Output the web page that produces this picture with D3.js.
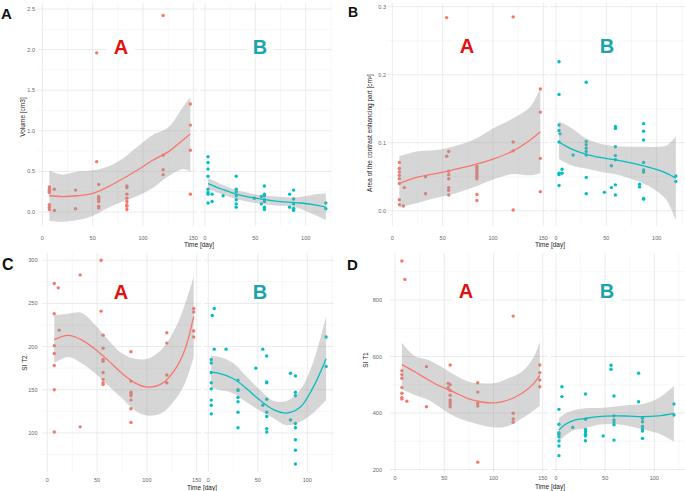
<!DOCTYPE html>
<html>
<head>
<meta charset="utf-8">
<script src="https://d3js.org/d3.v7.min.js"></script>
<style>
body { margin: 0; background: #fff; }
svg text { font-family: "Liberation Sans", Arial, sans-serif; }
</style>
</head>
<body>
<div id="chart-area"></div>
<script>

// ---- values ----
// points are grouped as [day, [values...]]
// smooth curves are [day, fit, lower, upper]

var dayTicks = [0, 50, 100, 150];

// A: volume [cm3]
var volumeTicks = [0, 0.5, 1, 1.5, 2, 2.5];
var volumeA = [
    [7, [0.31, 0.28, 0.26, 0.24, 0.09, 0.06, 0.03]],
    [12, [0.28, 0.02]],
    [33, [0.27, 0.04]],
    [54, [1.96, 0.62]],
    [56, [0.34, 0.19, 0.17, 0.15, 0.13, 0.07, 0.05]],
    [84, [0.32, 0.30, 0.22, 0.17, 0.13, 0.09, 0.07, 0.03]],
    [120, [2.42, 0.70, 0.52, 0.46]],
    [147, [1.33, 1.07, 0.76, 0.22]]
];
var volumeB = [
    [3, [0.68, 0.61, 0.53, 0.44, 0.28, 0.24, 0.22, 0.11]],
    [7, [0.22, 0.13]],
    [18, [0.20]],
    [31, [0.44, 0.28, 0.25, 0.20, 0.15, 0.10, 0.06]],
    [49, [0.17]],
    [56, [0.19, 0.10]],
    [59, [0.32, 0.22, 0.20, 0.15, 0.13, 0.06, 0.03]],
    [84, [0.22, 0.06]],
    [88, [0.27, 0.16, 0.10, 0.045, 0.02]],
    [120, [0.11, 0.04]]
];
var volumeFitA = [
    [7, 0.20, -0.11, 0.51], [20, 0.19, -0.12, 0.46], [35, 0.20, -0.10, 0.50],
    [50, 0.23, -0.05, 0.51], [65, 0.31, 0.05, 0.56], [80, 0.41, 0.13, 0.66],
    [95, 0.52, 0.20, 0.81], [110, 0.64, 0.30, 0.95], [125, 0.74, 0.44, 1.04],
    [140, 0.89, 0.53, 1.30], [147, 0.96, 0.50, 1.41]
];
var volumeFitB = [
    [3, 0.35, 0.28, 0.42], [17, 0.28, 0.22, 0.34], [31, 0.22, 0.16, 0.27],
    [50, 0.17, 0.11, 0.22], [70, 0.135, 0.08, 0.19], [90, 0.115, 0.06, 0.18],
    [106, 0.095, -0.02, 0.21], [120, 0.06, -0.10, 0.23]
];

// B: area of the contrast enhancing part
var areaTicks = [0, 0.1, 0.2, 0.3];
var areaA = [
    [7, [0.071, 0.062, 0.057, 0.052, 0.047, 0.040, 0.016, 0.009]],
    [11, [0.007]],
    [12, [0.034]],
    [33, [0.050, 0.025]],
    [54, [0.284, 0.080]],
    [56, [0.087, 0.058, 0.053, 0.047, 0.034, 0.030, 0.023]],
    [84, [0.065, 0.062, 0.059, 0.056, 0.053, 0.050, 0.047, 0.024, 0.015]],
    [120, [0.285, 0.101, 0.088, 0.001]],
    [147, [0.179, 0.145, 0.077, 0.028]]
];
var areaB = [
    [3, [0.219, 0.171, 0.126, 0.118, 0.101, 0.055, 0.053, 0.037]],
    [4, [0.113]],
    [6, [0.061, 0.055]],
    [17, [0.082]],
    [30, [0.189, 0.102, 0.097, 0.092, 0.087, 0.082, 0.049, 0.025]],
    [48, [0.027]],
    [55, [0.066, 0.034]],
    [59, [0.124, 0.121, 0.094, 0.081, 0.075, 0.038, 0.023]],
    [83, [0.039, 0.035]],
    [87, [0.128, 0.117, 0.104, 0.071, 0.060, 0.057, 0.018, 0.017]],
    [119, [0.051, 0.043]]
];
var areaFitA = [
    [7, 0.040, 0.005, 0.080], [24, 0.049, 0.011, 0.087], [41, 0.054, 0.018, 0.089],
    [57, 0.059, 0.023, 0.093], [80, 0.067, 0.034, 0.104], [100, 0.076, 0.046, 0.121],
    [120, 0.088, 0.054, 0.136], [137, 0.104, 0.052, 0.153], [147, 0.116, 0.055, 0.180]
];
var areaFitB = [
    [3, 0.101, 0.076, 0.131], [15, 0.091, 0.067, 0.122], [30, 0.083, 0.062, 0.106],
    [45, 0.078, 0.057, 0.098], [58, 0.075, 0.054, 0.095], [72, 0.071, 0.048, 0.094],
    [87, 0.066, 0.040, 0.094], [101, 0.060, 0.028, 0.094], [110, 0.055, 0.015, 0.096],
    [119, 0.048, -0.014, 0.109]
];

// C: SI T2
var t2Ticks = [100, 150, 200, 250, 300];
var t2A = [
    [7, [273, 238, 201, 192, 178, 150, 101]],
    [11, [268]],
    [12, [219]],
    [33, [283, 107]],
    [54, [300, 241]],
    [56, [213, 198, 185, 183, 170, 162, 158, 156]],
    [84, [194, 160, 147, 145, 143, 138, 128, 112]],
    [120, [216, 204, 167, 158]],
    [147, [244, 240, 218, 211]]
];
var t2B = [
    [3, [185, 181, 170, 158, 151, 138, 132, 122]],
    [4, [236]],
    [6, [244, 197]],
    [18, [197]],
    [30, [161, 150, 149, 141, 136, 124, 106]],
    [48, [175]],
    [55, [197, 132]],
    [59, [189, 159, 158, 139, 124, 119, 105, 101]],
    [83, [169, 115]],
    [88, [166, 147, 143, 111, 106, 92, 80, 64]],
    [119, [211, 177]]
];
var t2FitA = [
    [7, 208, 181, 236], [21, 213, 188, 238], [34, 208, 181, 239], [48, 197, 169, 225],
    [61, 184, 155, 208], [75, 169, 140, 192], [88, 158, 126, 186], [101, 153, 120, 186],
    [115, 157, 123, 197], [128, 173, 138, 220], [138, 196, 157, 248], [147, 235, 188, 281]
];
var t2FitB = [
    [3, 170, 152, 189], [11, 169, 150, 188], [25, 163, 146, 181], [38, 152, 136, 166],
    [52, 138, 126, 150], [66, 127, 117, 137], [79, 123, 109, 137], [93, 130, 113, 150],
    [106, 153, 123, 182], [119, 186, 138, 235]
];

// D: SI T1
var t1Ticks = [200, 400, 600, 800];
var t1A = [
    [7, [938, 550, 536, 523, 490, 470, 454, 450]],
    [10, [873]],
    [12, [442]],
    [32, [564, 422]],
    [54, [505, 490]],
    [56, [570, 500, 480, 463, 446, 439, 431, 422]],
    [84, [507, 474, 434, 425, 226]],
    [120, [743, 399, 379, 367]],
    [147, [570, 543, 517, 493]]
];
var t1B = [
    [3, [413, 360, 330, 325, 316, 301, 283, 249]],
    [6, [493, 458]],
    [17, [349]],
    [30, [467, 378, 342, 334, 325, 319, 302]],
    [48, [319]],
    [56, [569, 555]],
    [59, [460, 390, 375, 366, 358, 304]],
    [84, [541, 440]],
    [88, [381, 369, 352, 343, 336, 310]],
    [120, [432, 393]]
];
var t1FitA = [
    [7, 571, 484, 649], [20, 546, 464, 602], [34, 517, 446, 588], [47, 493, 417, 564],
    [61, 472, 387, 534], [75, 450, 369, 511], [88, 439, 357, 505], [102, 436, 349, 506],
    [115, 446, 354, 523], [129, 470, 381, 546], [141, 505, 410, 599], [147, 534, 425, 652]
];
var t1FitB = [
    [3, 340, 298, 381], [10, 361, 322, 399], [19, 375, 340, 411], [30, 381, 346, 417],
    [43, 387, 358, 418], [59, 390, 361, 422], [74, 389, 354, 428], [88, 387, 342, 432],
    [104, 390, 328, 452], [120, 399, 298, 496]
];


// SVG Size
var width = 685,
    height = 491;

var red = "#F8766D",
    teal = "#00BFC4";

var svg = d3.select("#chart-area").append("svg")
    .attr("width", width)
    .attr("height", height);

function flatten(groups) {
    var out = [];
    groups.forEach(function (g) {
        g[1].forEach(function (v) { out.push({ day: g[0], value: v }); });
    });
    return out;
}

// layout of the four plots
var panels = [
    {
        letter: "A", letterX: 1, letterY: 19, letterSize: 15,
        title: "Volume [cm3]", titleX: 23, titleY: 117,
        ticks: volumeTicks, fmt: d3.format(".1f"), domain: [0, 2.5], range: [212, 9],
        top: 3, bottom: 226, tickX: 35, xTickY: 240, xTitleX: 199, xTitleY: 247, facetY: 47,
        sub: [
            { x0: 42.3, k: 1.007, ext: [37, 198], pts: volumeA, fit: volumeFitA, color: red, label: "A", labelX: 121 },
            { x0: 205, k: 1.007, ext: [200, 332], pts: volumeB, fit: volumeFitB, color: teal, label: "B", labelX: 260 }
        ]
    },
    {
        letter: "B", letterX: 348, letterY: 17, letterSize: 14,
        title: "Area of the contrast enhancing part [cm\u00b2]", titleX: 370, titleY: 133,
        ticks: areaTicks, fmt: d3.format(".1f"), domain: [0, 0.3], range: [210.7, 6.7],
        top: 3, bottom: 226, tickX: 386, xTickY: 240, xTitleX: 550, xTitleY: 247, facetY: 46,
        sub: [
            { x0: 392.3, k: 1.007, ext: [387, 548], pts: areaA, fit: areaFitA, color: red, label: "A", labelX: 467 },
            { x0: 556, k: 1.007, ext: [550, 685], pts: areaB, fit: areaFitB, color: teal, label: "B", labelX: 607 }
        ]
    },
    {
        letter: "C", letterX: 2, letterY: 270, letterSize: 16,
        title: "SI T2", titleX: 25, titleY: 363,
        ticks: t2Ticks, fmt: d3.format("d"), domain: [100, 300], range: [432.9, 260.2],
        top: 253, bottom: 472, tickX: 37.5, xTickY: 481.5, xTitleX: 202, xTitleY: 489.5, facetY: 292,
        sub: [
            { x0: 47.3, k: 0.996, ext: [42, 201], pts: t2A, fit: t2FitA, color: red, label: "A", labelX: 121 },
            { x0: 208.3, k: 0.99, ext: [204, 334], pts: t2B, fit: t2FitB, color: teal, label: "B", labelX: 260 }
        ]
    },
    {
        letter: "D", letterX: 347, letterY: 270, letterSize: 15,
        title: "SI T1", titleX: 366, titleY: 360,
        ticks: t1Ticks, fmt: d3.format("d"), domain: [200, 800], range: [469.5, 300],
        top: 253, bottom: 472, tickX: 382, xTickY: 480, xTitleX: 550, xTitleY: 488.5, facetY: 291,
        sub: [
            { x0: 395, k: 0.985, ext: [390, 548], pts: t1A, fit: t1FitA, color: red, label: "A", labelX: 466 },
            { x0: 556, k: 0.983, ext: [551, 685], pts: t1B, fit: t1FitB, color: teal, label: "B", labelX: 607 }
        ]
    }
];

panels.forEach(function (p) {

    var yScale = d3.scaleLinear().domain(p.domain).range(p.range);
    var step = p.ticks[1] - p.ticks[0];
    var g = svg.append("g");

    // minor horizontal positions inside the plot
    var minorY = [];
    for (var v = p.ticks[0] - step * 1.5; v < p.ticks[p.ticks.length - 1] + step * 2; v += step) {
        if (yScale(v) > p.top && yScale(v) < p.bottom) minorY.push(v);
    }

    p.sub.forEach(function (s) {
        var xScale = d3.scaleLinear().domain([0, 100]).range([s.x0, s.x0 + 100 * s.k]);
        var inside = function (d) { return xScale(d) >= s.ext[0] && xScale(d) <= s.ext[1]; };

        var minorX = [25, 75, 125].filter(inside);
        var majorX = dayTicks.filter(inside);

        g.selectAll(null).data(minorY).enter().append("line")
            .attr("x1", s.ext[0]).attr("x2", s.ext[1])
            .attr("y1", function (d) { return yScale(d); })
            .attr("y2", function (d) { return yScale(d); })
            .attr("stroke", "#f2f2f2").attr("stroke-width", 0.6);
        g.selectAll(null).data(minorX).enter().append("line")
            .attr("y1", p.top).attr("y2", p.bottom)
            .attr("x1", function (d) { return xScale(d); })
            .attr("x2", function (d) { return xScale(d); })
            .attr("stroke", "#f2f2f2").attr("stroke-width", 0.6);
        g.selectAll(null).data(p.ticks).enter().append("line")
            .attr("x1", s.ext[0]).attr("x2", s.ext[1])
            .attr("y1", function (d) { return yScale(d); })
            .attr("y2", function (d) { return yScale(d); })
            .attr("stroke", "#e6e6e6").attr("stroke-width", 0.8);
        g.selectAll(null).data(majorX).enter().append("line")
            .attr("y1", p.top).attr("y2", p.bottom)
            .attr("x1", function (d) { return xScale(d); })
            .attr("x2", function (d) { return xScale(d); })
            .attr("stroke", "#e6e6e6").attr("stroke-width", 0.8);

        // facet label
        g.append("rect")
            .attr("x", s.labelX - 14).attr("y", p.facetY - 10)
            .attr("width", 28).attr("height", 20)
            .attr("fill", "#fff");
        g.append("text")
            .attr("x", s.labelX).attr("y", p.facetY + 7)
            .attr("text-anchor", "middle")
            .attr("font-size", 20).attr("font-weight", "bold")
            .attr("fill", s.label == "A" ? "#e2100f" : "#1ba4a9")
            .text(s.label);

        // points
        g.selectAll(null).data(flatten(s.pts)).enter().append("circle")
            .attr("cx", function (d) { return xScale(d.day); })
            .attr("cy", function (d) { return yScale(d.value); })
            .attr("r", 1.7)
            .attr("fill", s.color);

        // confidence band and smooth line
        var band = d3.area()
            .x(function (d) { return xScale(d[0]); })
            .y0(function (d) { return yScale(d[2]); })
            .y1(function (d) { return yScale(d[3]); })
            .curve(d3.curveCatmullRom);
        g.append("path").datum(s.fit)
            .attr("d", band)
            .attr("fill", "#999999")
            .attr("fill-opacity", 0.4);

        var line = d3.line()
            .x(function (d) { return xScale(d[0]); })
            .y(function (d) { return yScale(d[1]); })
            .curve(d3.curveCatmullRom);
        g.append("path").datum(s.fit)
            .attr("d", line)
            .attr("fill", "none")
            .attr("stroke", s.color)
            .attr("stroke-width", 1.3);

        // x tick labels
        g.selectAll(null).data(majorX).enter().append("text")
            .attr("x", function (d) { return xScale(d); })
            .attr("y", p.xTickY)
            .attr("text-anchor", "middle")
            .attr("font-size", 5.5)
            .attr("fill", "#666")
            .text(function (d) { return d; });
    });

    // y tick labels
    g.selectAll(null).data(p.ticks).enter().append("text")
        .attr("x", p.tickX)
        .attr("y", function (d) { return yScale(d) + 2; })
        .attr("text-anchor", "end")
        .attr("font-size", 5.5)
        .attr("fill", "#666")
        .text(function (d) { return p.fmt(d); });

    // axis titles
    g.append("text")
        .attr("transform", "translate(" + p.titleX + "," + p.titleY + ") rotate(-90)")
        .attr("text-anchor", "middle")
        .attr("dy", "0.35em")
        .attr("font-size", 6.5)
        .attr("fill", "#222")
        .text(p.title);

    g.append("text")
        .attr("x", p.xTitleX)
        .attr("y", p.xTitleY)
        .attr("text-anchor", "middle")
        .attr("font-size", 6.5)
        .attr("fill", "#222")
        .text("Time [day]");

    // panel letter
    g.append("text")
        .attr("x", p.letterX)
        .attr("y", p.letterY)
        .attr("font-size", p.letterSize)
        .attr("font-weight", "bold")
        .attr("fill", "#111")
        .text(p.letter);
});

</script>
</body>
</html>
